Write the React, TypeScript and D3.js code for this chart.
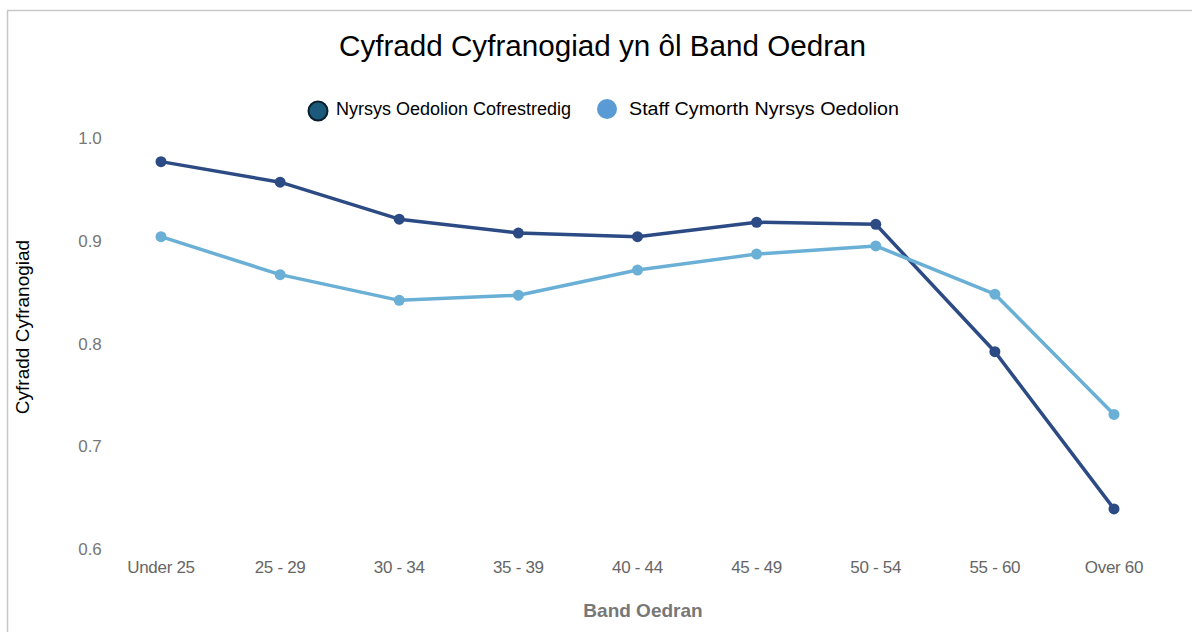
import React from "react";
import * as d3 from "d3";

const categories = ["Under 25", "25 - 29", "30 - 34", "35 - 39", "40 - 44", "45 - 49", "50 - 54", "55 - 60", "Over 60"];
const registeredNurses = [0.977, 0.957, 0.921, 0.9075, 0.904, 0.918, 0.916, 0.792, 0.639];
const supportStaff = [0.904, 0.867, 0.842, 0.847, 0.8715, 0.887, 0.895, 0.848, 0.731];
const yTicks = [0.6, 0.7, 0.8, 0.9, 1.0];
const seriesNames = ["Nyrsys Oedolion Cofrestredig", "Staff Cymorth Nyrsys Oedolion"];

const W = 1192;
const H = 632;
const DARK = "#2c4a84";
const LIGHT = "#6aafd6";

export default function App() {
  const x = d3.scalePoint<string>().domain(categories).range([161, 1114]);
  const y = d3.scaleLinear().domain([0.6, 1.0]).range([549, 138]);
  const line = d3
    .line<number>()
    .x((_, i) => x(categories[i]) as number)
    .y((d) => y(d));

  const series = [
    { name: seriesNames[0], values: registeredNurses, color: DARK },
    { name: seriesNames[1], values: supportStaff, color: LIGHT },
  ];

  return (
    <svg width={W} height={H} style={{ position: "absolute", left: 0, top: 0 }} fontFamily="Liberation Sans, Arial, sans-serif">
      <rect x={0} y={0} width={W} height={H} fill="#fff" />
      <path d={`M7.5,${H} V10.5 H${W}`} fill="none" stroke="#c8c8c8" strokeWidth={1.5} />
      <text x={339} y={56} fontSize={29} fill="#000" textLength={527} lengthAdjust="spacingAndGlyphs">
        Cyfradd Cyfranogiad yn ôl Band Oedran
      </text>
      {/* legend */}
      <circle cx={318} cy={111} r={9.5} fill="#1b5a7a" stroke="#0b1e2a" strokeWidth={2} />
      <text x={336} y={115} fontSize={18} fill="#000" textLength={235} lengthAdjust="spacingAndGlyphs">{seriesNames[0]}</text>
      <circle cx={607} cy={109} r={10} fill="#5b9bd5" />
      <text x={629} y={115} fontSize={18} fill="#000" textLength={270} lengthAdjust="spacingAndGlyphs">{seriesNames[1]}</text>

      {/* y axis labels */}
      {yTicks.map((t) => (
        <text key={t} x={90} y={y(t) + 6} textAnchor="middle" fontSize={17} fill="#777">
          {t.toFixed(1)}
        </text>
      ))}
      <text transform={`translate(29,327) rotate(-90)`} textAnchor="middle" fontSize={19} fill="#000">
        Cyfradd Cyfranogiad
      </text>

      {/* x axis labels */}
      {categories.map((c) => (
        <text key={c} x={x(c)} y={573} textAnchor="middle" fontSize={17} fill="#666" letterSpacing={-0.3}>
          {c}
        </text>
      ))}
      <text x={643} y={617} textAnchor="middle" fontSize={19} fontWeight="bold" fill="#777">
        Band Oedran
      </text>

      {/* series */}
      {series.map((s) => (
        <g key={s.name}>
          <path d={line(s.values) || ""} fill="none" stroke={s.color} strokeWidth={3.5} strokeLinejoin="round" />
          {s.values.map((v, i) => (
            <circle key={i} cx={x(categories[i])} cy={y(v)} r={5.5} fill={s.color} />
          ))}
        </g>
      ))}
    </svg>
  );
}
